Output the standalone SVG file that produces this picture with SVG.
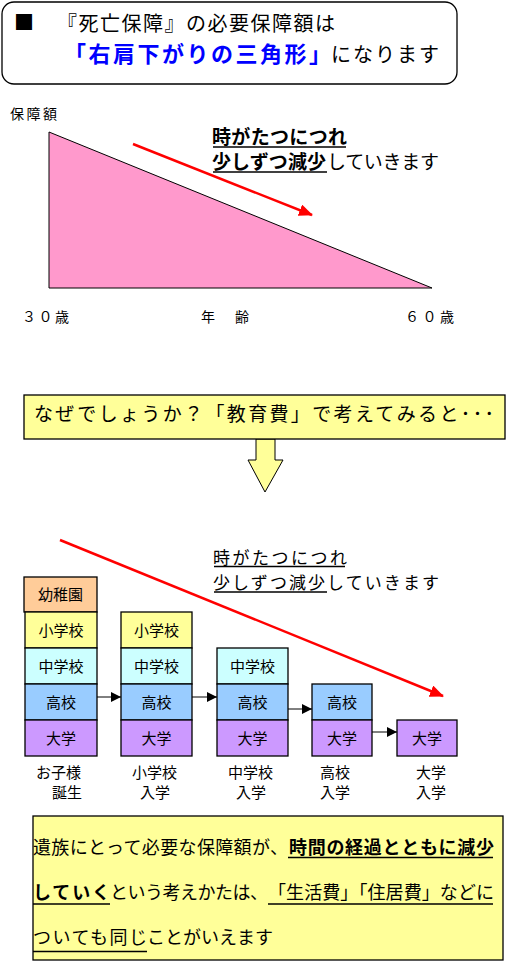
<svg xmlns="http://www.w3.org/2000/svg" width="510" height="963" viewBox="0 0 510 963">
<style>
text{font-family:"Noto Sans CJK JP","Noto Sans CJK SC",sans-serif;fill:#000}
.b{font-weight:bold}
.ul{stroke:#000;stroke-width:1.3}
.box{stroke:#000;stroke-width:1.3}
.k{fill:#ffcc99}.s{fill:#ffff99}.c{fill:#ccffff}.h{fill:#99ccff}.d{fill:#cc99ff}
.bt{font-size:15px;text-anchor:middle}
.lb{font-size:15px}
.bl{font-size:18px}
</style>
<defs>
<marker id="ra" markerUnits="userSpaceOnUse" markerWidth="14" markerHeight="12" refX="13" refY="6" orient="auto"><path d="M0,0 L14,6 L0,12 z" fill="#ff0000"/></marker>
<marker id="ka" markerUnits="userSpaceOnUse" markerWidth="10" markerHeight="10" refX="10" refY="5" orient="auto"><path d="M0,0 L10,5 L0,10 z" fill="#000"/></marker>
</defs>

<g id="title">
<rect x="2" y="2" width="455" height="82" rx="12" fill="#fff" stroke="#000" stroke-width="1.3"/>
<text x="14" y="30" font-size="20">■</text>
<text x="57" y="31" font-size="20" textLength="278" lengthAdjust="spacing">『死亡保障』の必要保障額は</text>
<text x="64" y="62" font-size="22" class="b" style="fill:#0000ff" textLength="267" lengthAdjust="spacing">「右肩下がりの三角形」</text>
<text x="331" y="62" font-size="20" textLength="108" lengthAdjust="spacing">になります</text>
</g>

<g id="chart">
<text x="10" y="119" font-size="14" textLength="47" lengthAdjust="spacing">保障額</text>
<polygon points="49,132 432,288 49,288" fill="#ff99cc" stroke="#000" stroke-width="1"/>
<text x="212" y="144" font-size="19" class="b" textLength="135" lengthAdjust="spacing">時がたつにつれ</text>
<line x1="213" y1="147" x2="346" y2="147" class="ul"/>
<text x="212" y="169" font-size="19" class="b" textLength="114" lengthAdjust="spacing">少しずつ減少</text>
<text x="327" y="169" font-size="19" textLength="112" lengthAdjust="spacing">していきます</text>
<line x1="213" y1="172" x2="327" y2="172" class="ul"/>
<text x="22" y="322" font-size="14" textLength="47" lengthAdjust="spacing">３０歳</text>
<text x="201" y="322" font-size="14" textLength="48" lengthAdjust="spacing">年　齢</text>
<text x="405" y="322" font-size="14" textLength="49" lengthAdjust="spacing">６０歳</text>
</g>

<g id="question">
<polygon points="256,439 275,439 275,460 283,460 265,492 248,460 256,460" fill="#ffff99" stroke="#000" stroke-width="1"/>
<rect x="24" y="395" width="481" height="44" fill="#ffff99" stroke="#000" stroke-width="1.3"/>
<text x="34" y="421" font-size="19" textLength="460" lengthAdjust="spacing">なぜでしょうか？「教育費」で考えてみると･･･</text>
</g>

<g id="caption2">
<text x="213" y="564" font-size="17" textLength="134" lengthAdjust="spacing">時がたつにつれ</text>
<line x1="214" y1="566.5" x2="345" y2="566.5" class="ul"/>
<text x="213" y="589" font-size="17" textLength="226" lengthAdjust="spacing">少しずつ減少していきます</text>
<line x1="214" y1="592" x2="327" y2="592" class="ul"/>
</g>

<g id="col1">
<rect x="24" y="577" width="73" height="35" class="box k"/>
<rect x="25" y="612" width="72" height="36" class="box s"/>
<rect x="25" y="648" width="72" height="36" class="box c"/>
<rect x="25" y="684" width="72" height="36" class="box h"/>
<rect x="25" y="720" width="72" height="36" class="box d"/>
<text x="60.5" y="600" class="bt">幼稚園</text>
<text x="61" y="636" class="bt">小学校</text>
<text x="61" y="672" class="bt">中学校</text>
<text x="61" y="708" class="bt">高校</text>
<text x="61" y="744" class="bt">大学</text>
<text x="36" y="778" class="lb">お子様</text>
<text x="52" y="798" class="lb">誕生</text>
</g>

<g id="col2">
<rect x="121" y="612" width="71" height="36" class="box s"/>
<rect x="121" y="648" width="71" height="36" class="box c"/>
<rect x="121" y="684" width="71" height="36" class="box h"/>
<rect x="121" y="720" width="71" height="36" class="box d"/>
<text x="156.5" y="636" class="bt">小学校</text>
<text x="156.5" y="672" class="bt">中学校</text>
<text x="156.5" y="708" class="bt">高校</text>
<text x="156.5" y="744" class="bt">大学</text>
<text x="132" y="778" class="lb">小学校</text>
<text x="140" y="798" class="lb">入学</text>
</g>

<g id="col3">
<rect x="217" y="648" width="71" height="36" class="box c"/>
<rect x="217" y="684" width="71" height="36" class="box h"/>
<rect x="217" y="720" width="71" height="36" class="box d"/>
<text x="252.5" y="672" class="bt">中学校</text>
<text x="252.5" y="708" class="bt">高校</text>
<text x="252.5" y="744" class="bt">大学</text>
<text x="228" y="778" class="lb">中学校</text>
<text x="236" y="798" class="lb">入学</text>
</g>

<g id="col4">
<rect x="312" y="684" width="60" height="36" class="box h"/>
<rect x="312" y="720" width="60" height="36" class="box d"/>
<text x="342" y="708" class="bt">高校</text>
<text x="342" y="744" class="bt">大学</text>
<text x="320" y="778" class="lb">高校</text>
<text x="320" y="798" class="lb">入学</text>
</g>

<g id="col5">
<rect x="397" y="720" width="60" height="36" class="box d"/>
<text x="427" y="744" class="bt">大学</text>
<text x="416" y="778" class="lb">大学</text>
<text x="416" y="798" class="lb">入学</text>
</g>

<g id="connectors">
<line x1="133" y1="144" x2="312" y2="215" stroke="#ff0000" stroke-width="2.5" marker-end="url(#ra)"/>
<line x1="60" y1="540" x2="443" y2="696" stroke="#ff0000" stroke-width="2.5" marker-end="url(#ra)"/>
<line x1="97" y1="697" x2="121" y2="697" stroke="#000" stroke-width="1" marker-end="url(#ka)"/>
<line x1="192" y1="697" x2="217" y2="697" stroke="#000" stroke-width="1" marker-end="url(#ka)"/>
<line x1="288" y1="709" x2="312" y2="709" stroke="#000" stroke-width="1" marker-end="url(#ka)"/>
<line x1="372" y1="732" x2="397" y2="732" stroke="#000" stroke-width="1" marker-end="url(#ka)"/>
</g>

<g id="summary">
<rect x="33" y="816" width="470" height="144" fill="#ffff99" stroke="#000" stroke-width="1.3"/>
<text x="33" y="854" class="bl" textLength="255" lengthAdjust="spacing">遺族にとって必要な保障額が、</text>
<text x="289" y="854" class="bl b" textLength="205" lengthAdjust="spacing">時間の経過とともに減少</text>
<line x1="288" y1="857.5" x2="493" y2="857.5" class="ul"/>
<text x="33" y="899" class="bl b" textLength="77" lengthAdjust="spacing">していく</text>
<text x="110" y="899" class="bl" textLength="158" lengthAdjust="spacing">という考えかたは、</text>
<text x="268" y="899" class="bl" textLength="226" lengthAdjust="spacing">「生活費」「住居費」などに</text>
<line x1="33" y1="904" x2="110" y2="904" class="ul"/>
<line x1="268" y1="904" x2="493" y2="904" class="ul"/>
<text x="33" y="944" class="bl" textLength="114" lengthAdjust="spacing">ついても同じ</text>
<text x="147" y="944" class="bl" textLength="126" lengthAdjust="spacing">ことがいえます</text>
<line x1="33" y1="951.5" x2="147" y2="951.5" class="ul"/>
</g>
</svg>
